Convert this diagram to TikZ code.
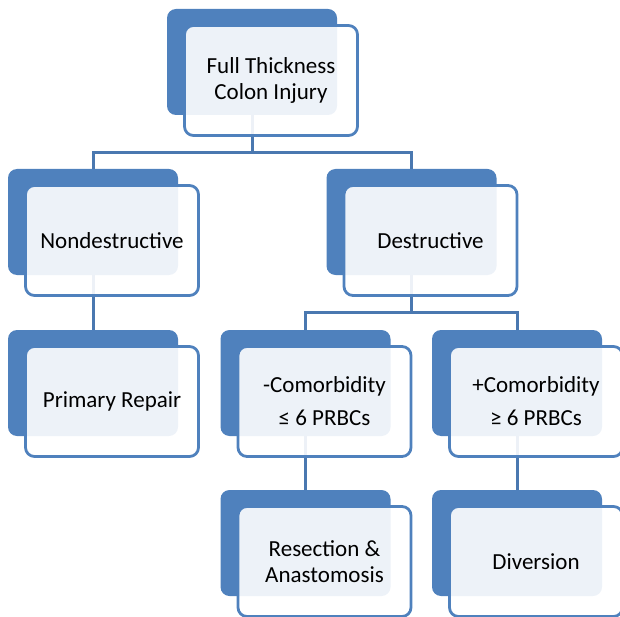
\documentclass[tikz,border=0pt]{standalone}
\usepackage{fontspec}
\setmainfont{Carlito}
\usetikzlibrary{positioning}

\definecolor{boxblue}{HTML}{4F81BD}
\definecolor{linkblue}{HTML}{4A78B0}

\tikzset{
    backbox/.style={rectangle, rounded corners=9pt, fill=boxblue,
        minimum width=170pt, minimum height=106pt, inner sep=0pt},
    frontbox/.style={rectangle, rounded corners=9pt, draw=boxblue, line width=2.8pt,
        fill=white, fill opacity=0.9, text opacity=1,
        minimum width=173pt, minimum height=110pt, align=center,
        font=\fontsize{23}{26}\selectfont},
    link/.style={draw=linkblue, line width=3pt},
}

\begin{document}
\begin{tikzpicture}[x=1pt, y=-1pt]
    \useasboundingbox (0,0) rectangle (620,617);

    % back plates
    \node[backbox] (fti-b) at (252,62) {};
    \node[backbox] (nd-b) at (93,222) {};
    \node[backbox] (ds-b) at (411.5,222) {};
    \node[backbox] (pr-b) at (93,383) {};
    \node[backbox] (mc-b) at (305.5,383) {};
    \node[backbox] (pc-b) at (517,383) {};
    \node[backbox] (ra-b) at (305.5,543) {};
    \node[backbox] (dv-b) at (517,543) {};

    % connectors
    \draw[link] (fti-b.south) -- ++(0,37) -| (nd-b.north);
    \draw[link] (fti-b.south) -- ++(0,37) -| (ds-b.north);
    \draw[link] (nd-b.south) -- (pr-b.north);
    \draw[link] (ds-b.south) -- ++(0,37) -| (mc-b.north);
    \draw[link] (ds-b.south) -- ++(0,37) -| (pc-b.north);
    \draw[link] (mc-b.south) -- (ra-b.north);
    \draw[link] (pc-b.south) -- (dv-b.north);

    % front boxes
    \node[frontbox] (fti) at ([shift={(19,18.5)}]fti-b) {Full Thickness\\Colon Injury};
    \node[frontbox] (nd) at ([shift={(19,18.5)}]nd-b) {Nondestructive};
    \node[frontbox] (ds) at ([shift={(19,18.5)}]ds-b) {Destructive};
    \node[frontbox] (pr) at ([shift={(19,18.5)}]pr-b) {Primary Repair};
    \node[frontbox] (mc) at ([shift={(19,18.5)}]mc-b) {-Comorbidity\\[7pt]≤ 6 PRBCs};
    \node[frontbox] (pc) at ([shift={(19,18.5)}]pc-b) {+Comorbidity\\[7pt]≥ 6 PRBCs};
    \node[frontbox] (ra) at ([shift={(19,18.5)}]ra-b) {Resection \&\\Anastomosis};
    \node[frontbox] (dv) at ([shift={(19,18.5)}]dv-b) {Diversion};
\end{tikzpicture}
\end{document}
